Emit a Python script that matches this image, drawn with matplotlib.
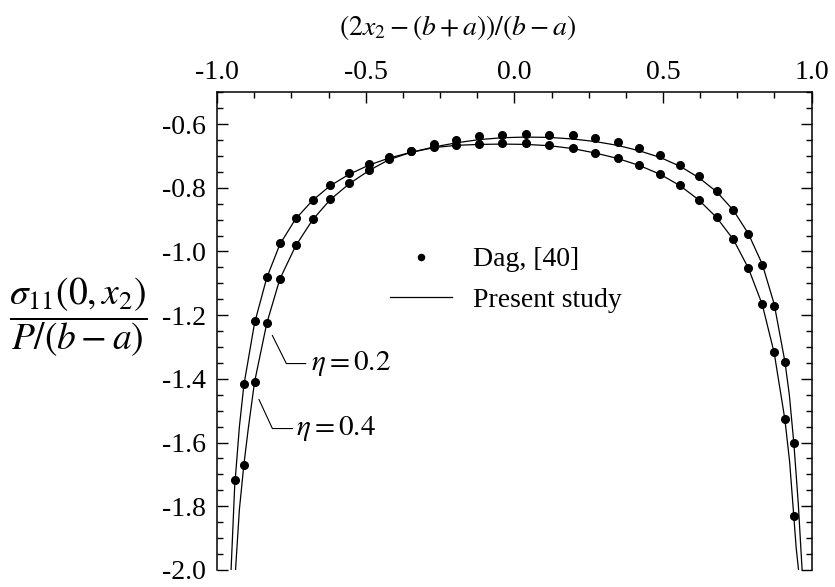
import numpy as np
import matplotlib
matplotlib.use('Agg')
import matplotlib.pyplot as plt
from matplotlib.ticker import MultipleLocator, FormatStrFormatter

plt.rcParams['font.family'] = ['Liberation Serif', 'DejaVu Serif']
plt.rcParams['mathtext.fontset'] = 'stix'
plt.rcParams['axes.unicode_minus'] = False

# Dag [40] points
dag_x = [-0.941, -0.910, -0.874, -0.833, -0.789, -0.736, -0.679, -0.620,
         -0.556, -0.489, -0.422, -0.348, -0.270, -0.195, -0.119, -0.040,
         0.039, 0.117, 0.196, 0.272, 0.347, 0.420, 0.491, 0.558,
         0.620, 0.681, 0.737, 0.787, 0.834, 0.874, 0.910, 0.940]
dag_upper = [-1.716, -1.417, -1.219, -1.079, -0.974, -0.895, -0.837, -0.790,
             -0.755, -0.725, -0.703, -0.686, -0.663, -0.650, -0.639, -0.634,
             -0.631, -0.633, -0.636, -0.645, -0.658, -0.675, -0.697, -0.728,
             -0.764, -0.811, -0.870, -0.945, -1.042, -1.171, -1.347, -1.601]
dag_lower_x = dag_x[1:]
dag_lower = [-1.670, -1.410, -1.225, -1.086, -0.981, -0.899, -0.836,
             -0.786, -0.744, -0.710, -0.686, -0.673, -0.665, -0.663, -0.660,
             -0.661, -0.667, -0.676, -0.690, -0.707, -0.729, -0.757, -0.793,
             -0.837, -0.893, -0.962, -1.051, -1.166, -1.317, -1.526, -1.831]

# present study curves
curve_a_x = [-0.953, -0.941, -0.925, -0.910, -0.874, -0.833, -0.789, -0.736,
             -0.679, -0.620, -0.556, -0.489, -0.422, -0.348, -0.270, -0.195,
             -0.119, -0.040, 0.039, 0.117, 0.196, 0.272, 0.347, 0.420,
             0.491, 0.558, 0.620, 0.681, 0.737, 0.787, 0.834, 0.874,
             0.910, 0.925, 0.940, 0.955, 0.968]
curve_a_y = [-2.00, -1.74, -1.55, -1.42, -1.225, -1.083, -0.978, -0.898,
             -0.840, -0.794, -0.758, -0.729, -0.707, -0.689, -0.672, -0.659,
             -0.649, -0.643, -0.641, -0.642, -0.647, -0.655, -0.667, -0.684,
             -0.705, -0.733, -0.768, -0.813, -0.871, -0.944, -1.040, -1.165,
             -1.345, -1.45, -1.60, -1.79, -2.00]
curve_b_x = [-0.938, -0.925, -0.910, -0.895, -0.874, -0.833, -0.789, -0.736,
             -0.679, -0.620, -0.556, -0.489, -0.422, -0.348, -0.270, -0.195,
             -0.119, -0.040, 0.039, 0.117, 0.196, 0.272, 0.347, 0.420,
             0.491, 0.558, 0.620, 0.681, 0.737, 0.787, 0.834, 0.874,
             0.910, 0.926, 0.940, 0.948, 0.956]
curve_b_y = [-2.00, -1.81, -1.67, -1.555, -1.41, -1.226, -1.087, -0.983,
             -0.901, -0.838, -0.788, -0.746, -0.712, -0.689, -0.674, -0.667,
             -0.664, -0.663, -0.664, -0.668, -0.677, -0.691, -0.708, -0.730,
             -0.758, -0.794, -0.838, -0.894, -0.963, -1.052, -1.167, -1.318,
             -1.527, -1.66, -1.831, -1.93, -2.00]

fig = plt.figure(figsize=(8.35, 5.87), dpi=100)
ax = fig.add_axes([0.26, 0.029, 0.712, 0.814])

line_a, = ax.plot(curve_a_x, curve_a_y, color='black', lw=0.9)
ax.plot(curve_b_x, curve_b_y, color='black', lw=0.9)
dots, = ax.plot(dag_x, dag_upper, 'o', color='black', ms=5.5)
ax.plot(dag_lower_x, dag_lower, 'o', color='black', ms=5.5)

ax.set_xlim(-1.0, 1.0)
ax.set_ylim(-2.0, -0.5)
ax.xaxis.set_major_locator(MultipleLocator(0.5))
ax.xaxis.set_minor_locator(MultipleLocator(0.125))
ax.yaxis.set_major_locator(MultipleLocator(0.2))
ax.yaxis.set_minor_locator(MultipleLocator(0.05))
ax.xaxis.set_major_formatter(FormatStrFormatter('%.1f'))
ax.yaxis.set_major_formatter(FormatStrFormatter('%.1f'))
ax.tick_params(which='both', direction='in', top=True, bottom=False,
               left=True, right=True, labeltop=True, labelbottom=False,
               labelright=False, width=1.0, labelsize=20, pad=8)
ax.tick_params(axis='x', which='both', pad=5)
ax.tick_params(which='major', length=8)
ax.tick_params(which='minor', length=4)
ax.spines['bottom'].set_visible(False)
for s in ['top', 'left', 'right']:
    ax.spines[s].set_linewidth(1.1)

fig.text(458 / 835, 1 - 27 / 587, r'$\left(2x_2-(b+a)\right)/(b-a)$',
         ha='center', va='center', fontsize=20)
fig.text(78 / 835, 1 - 317 / 587, r'$\dfrac{\sigma_{11}(0,x_2)}{P/(b-a)}$',
         ha='center', va='center', fontsize=27)

ax.legend([dots, line_a], ['Dag, [40]', 'Present study'],
          loc='center left', bbox_to_anchor=(0.291, 0.607), frameon=False,
          fontsize=20, handlelength=2.23, handletextpad=0.75, labelspacing=0.55,
          numpoints=1, markerscale=0.8, borderaxespad=0, borderpad=0)

# leader lines for eta labels
ax.plot([-0.814, -0.767, -0.702], [-1.264, -1.352, -1.352], color='black', lw=0.8)
ax.text(-0.685, -1.352, r'$\eta = 0.2$', fontsize=21, ha='left', va='center')
ax.plot([-0.859, -0.814, -0.747], [-1.465, -1.556, -1.556], color='black', lw=0.8)
ax.text(-0.735, -1.556, r'$\eta = 0.4$', fontsize=21, ha='left', va='center')

fig.savefig('out.png', dpi=100)
